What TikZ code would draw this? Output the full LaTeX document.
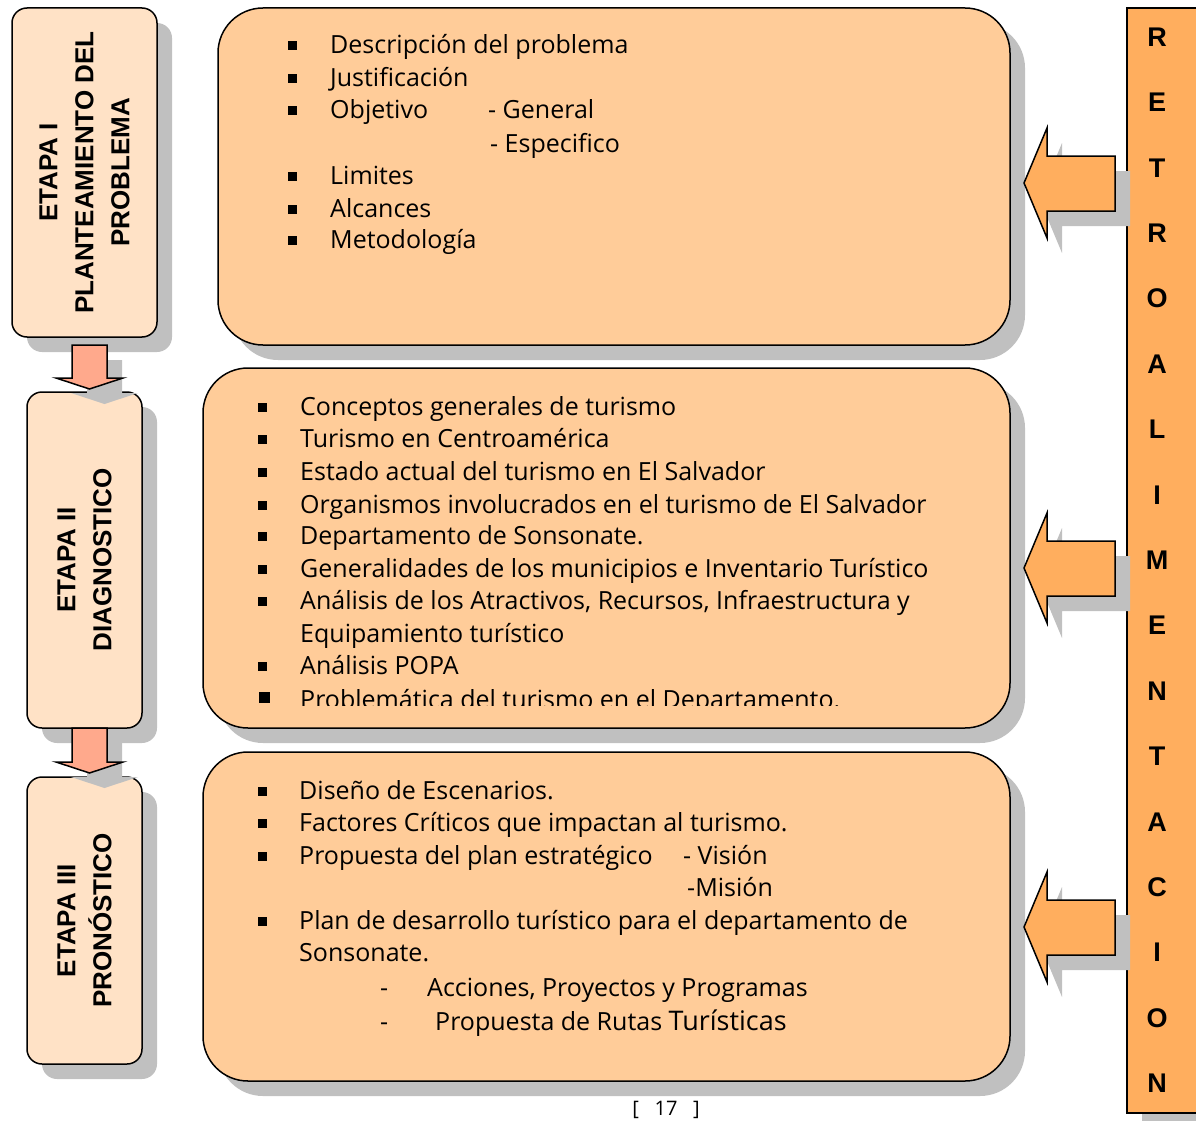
\documentclass[tikz,border=0pt]{standalone}
\usepackage{fontspec}
\setmainfont{Open Sans}
\newfontfamily\labfont{Liberation Sans}
\usetikzlibrary{shadows}
\definecolor{bigfill}{HTML}{FFCC99}
\definecolor{etfill}{HTML}{FFE2C6}
\definecolor{orfill}{HTML}{FFAE5E}
\definecolor{dnfill}{HTML}{FFA98C}
\definecolor{shgray}{HTML}{C0C0C0}
\tikzset{
  shd/.style={drop shadow={shadow xshift=15pt, shadow yshift=-15pt, fill=shgray, opacity=1}},
  bigbox/.style={draw=black, line width=1.5pt, fill=bigfill, rounded corners=45pt, inner sep=0pt, shd},
  etbox/.style={draw=black, line width=1.5pt, fill=etfill, rounded corners=15pt, inner sep=0pt, shd},
  etlab/.style={rotate=90, align=center, font=\labfont\bfseries\fontsize{26}{36}\selectfont},
  txt/.style={anchor=base west, inner sep=0pt, font=\fontsize{25}{28}\selectfont},
  bul/.style={fill=black, minimum size=9pt, inner sep=0pt},
  rl/.style={font=\labfont\bfseries\fontsize{27}{30}\selectfont, inner sep=0pt},
  blk/.style={draw=black, line width=1.5pt, line join=miter},
  blkshd/.style={fill=shgray, draw=none},
}
\begin{document}
\begin{tikzpicture}[x=1pt, y=-1pt]
\useasboundingbox (0,0) rectangle (1196,1121);
% big content boxes
\node[bigbox, minimum width=792pt, minimum height=337pt] (b1) at (614,176.5) {};
\node[bigbox, minimum width=807pt, minimum height=360pt] (b2) at (606.5,548) {};
\node[bigbox, minimum width=807pt, minimum height=329pt] (b3) at (606.5,916.5) {};
% retroalimentacion bar
\node[draw=black, line width=1.5pt, fill=orfill, minimum width=90pt, minimum height=1105pt, inner sep=0pt, shd] (retro) at (1172,560.5) {};
% stage boxes
\node[etbox, minimum width=145pt, minimum height=329pt] (e1) at (84.5,172.5) {};
\node[etlab] (e1l) at (e1.center) {ETAPA I\\PLANTEAMIENTO DEL\\PROBLEMA};
\node[etbox, minimum width=115pt, minimum height=336pt] (e2) at (84.5,560) {};
\node[etlab] (e2l) at (e2.center) {ETAPA II\\DIAGNOSTICO};
\node[etbox, minimum width=115pt, minimum height=287pt] (e3) at (84.5,920.5) {};
\node[etlab] (e3l) at (e3.center) {ETAPA III\\PRONÓSTICO};
% down arrows
\foreach \t/\b in {345/378, 728/762}{
  \fill[blkshd] (87,\t+15) -- (122,\t+15) -- (122,\b+15) -- (138,\b+15) -- (104.5,\b+26) -- (71,\b+15) -- (87,\b+15) -- cycle;
  \draw[blk, fill=dnfill] (72,\t) -- (107,\t) -- (107,\b) -- (123,\b) -- (89.5,\b+11) -- (56,\b) -- (72,\b) -- cycle;
}
% left arrows
\foreach \c in {183, 568, 927}{
  \fill[blkshd] (1039,\c+15) -- (1062,\c-40) -- (1062,\c-12) -- (1130,\c-12) -- (1130,\c+43) -- (1062,\c+43) -- (1062,\c+70) -- cycle;
  \draw[blk, fill=orfill] (1024,\c) -- (1047,\c-55) -- (1047,\c-27) -- (1115,\c-27) -- (1115,\c+28) -- (1047,\c+28) -- (1047,\c+55) -- cycle;
}
% retro letters
\foreach \l [count=\i from 0] in {R,E,T,R,O,A,L,I,M,E,N,T,A,C,I,O,N}{
  \node[rl] (r\i) at (1157,37+65.4*\i) {\l};
}
% box 1 text
\foreach \y [count=\i] in {54,87,119,184,217,248}{
  \node[bul] (p\i) at (292,\y-8) {};
}
\node[txt] (t11) at (330,54) {Descripción del problema};
\node[txt] (t12) at (330,87) {Justificación};
\node[txt] (t13) at (330,119) {Objetivo};
\node[txt] (t13a) at (488,119) {- General};
\node[txt] (t13b) at (490,152) {- Especifico};
\node[txt] (t14) at (330,184) {Limites};
\node[txt] (t15) at (330,217) {Alcances};
\node[txt] (t16) at (330,248) {Metodología};
% box 2 text
\foreach \y [count=\i] in {415,447,480,513,544,577,609,674}{
  \node[bul] (q\i) at (262,\y-8) {};
}
\node[txt] (t21) at (300,415) {Conceptos generales de turismo};
\node[txt] (t22) at (300,447) {Turismo en Centroamérica};
\node[txt] (t23) at (300,480) {Estado actual del turismo en El Salvador};
\node[txt] (t24) at (300,513) {Organismos involucrados en el turismo de El Salvador};
\node[txt] (t25) at (300,544) {Departamento de Sonsonate.};
\node[txt] (t26) at (300,577) {Generalidades de los municipios e Inventario Turístico};
\node[txt] (t27) at (300,609) {Análisis de los Atractivos, Recursos, Infraestructura y};
\node[txt] (t27b) at (300,642) {Equipamiento turístico};
\node[txt] (t28) at (300,674) {Análisis POPA};
\begin{scope}
\clip (240,680) rectangle (1000,705);
\node[bul, minimum size=11pt] (q9) at (264,697) {};
\node[txt] (t29) at (300,708) {Problemática del turismo en el Departamento.};
\end{scope}
% box 3 text
\foreach \y [count=\i] in {799,831,864,929}{
  \node[bul] (s\i) at (262,\y-8) {};
}
\node[txt] (t31) at (299,799) {Diseño de Escenarios.};
\node[txt] (t32) at (299,831) {Factores Críticos que impactan al turismo.};
\node[txt] (t33) at (299,864) {Propuesta del plan estratégico};
\node[txt] (t33a) at (683,864) {- Visión};
\node[txt] (t33b) at (687,896) {-Misión};
\node[txt] (t34) at (299,929) {Plan de desarrollo turístico para el departamento de};
\node[txt] (t34b) at (299,961) {Sonsonate.};
\node[txt] (d1) at (380,996) {-};
\node[txt] (t35) at (427,996) {Acciones, Proyectos y Programas};
\node[txt] (d2) at (380,1030) {-};
\node[txt] (t36) at (435,1030) {Propuesta de Rutas {\fontsize{27}{28}\selectfont Turísticas}};
% page number
\node[font=\fontsize{20}{22}\selectfont, inner sep=0pt] (pg) at (666,1110) {[\ \ \ 17\ \ \ ]};
\end{tikzpicture}
\end{document}
